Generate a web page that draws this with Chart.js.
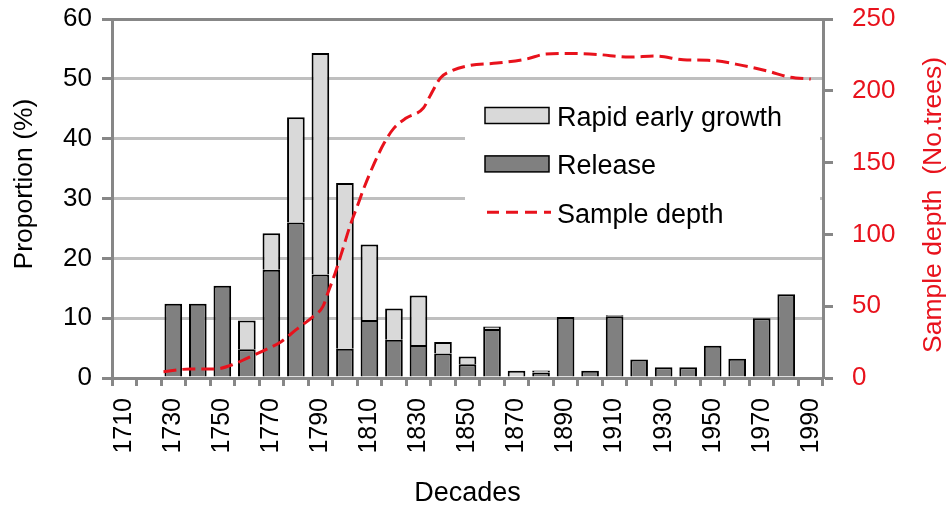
<!DOCTYPE html>
<html>
<head>
<meta charset="utf-8">
<script src="https://cdn.jsdelivr.net/npm/chart.js@4.4.1/dist/chart.umd.min.js"></script>
<style>
  body { margin: 0; background: #fff; }
  #wrap { width: 950px; height: 510px; }
</style>
</head>
<body>
<div id="wrap"><canvas id="myChart" width="950" height="510"></canvas></div>
<script>
// decades on the x axis (only every other one gets a label)
var decades = ['1710','1720','1730','1740','1750','1760','1770','1780','1790','1800',
               '1810','1820','1830','1840','1850','1860','1870','1880','1890','1900',
               '1910','1920','1930','1940','1950','1960','1970','1980','1990'];
var shownLabels = ['1710','1730','1750','1770','1790','1810','1830','1850','1870',
                   '1890','1910','1930','1950','1970','1990'];

// proportion (%) of trees per decade
var release = [null, null, 12.4, 12.4, 15.4, 4.8, 18.1, 26.0, 17.3, 4.9,
               9.7, 6.4, 5.5, 4.1, 2.3, 8.2, 0, 0.9, 10.2, 1.2,
               10.3, 3.1, 1.8, 1.8, 5.4, 3.2, 10.0, 14.0, null];
var rapidGrowth = [null, null, 0, 0, 0, 4.8, 6.1, 17.6, 37.0, 27.7,
                   12.6, 5.2, 8.3, 1.9, 1.3, 0.4, 1.2, 0.35, 0, 0,
                   0.2, 0, 0, 0, 0, 0, 0, 0, null];

// sample depth (no. of trees)
var depthYears = [1726, 1737, 1747, 1755, 1760, 1766, 1774, 1780, 1787, 1791,
                  1793, 1796, 1799, 1802, 1805, 1808, 1812, 1816, 1820, 1825,
                  1832, 1835, 1839, 1843, 1851, 1862, 1874, 1882, 1892, 1903,
                  1916, 1927, 1938, 1950, 1962, 1973, 1981, 1990];
var depthTrees = [4.4, 6.3, 6.3, 9.8, 13.7, 18.4, 25.3, 33.5, 42.8, 49.7,
                  59, 73, 89, 105.5, 119.4, 133.4, 149.6, 163.6, 174, 181,
                  188, 197.3, 209, 213.5, 217.7, 219.3, 222.1, 225.6, 226.0, 225.3,
                  223.5, 224.2, 221.6, 221.1, 217.7, 213.5, 209.6, 208.2];

var leftTitle = 'Proportion (%)';
var rightTitle = 'Sample depth  (No.trees)';

var red = '#e8121c';
var axisGrey = '#878787';
var gridGrey = '#bfbfbf';
var fontFamily = '"Liberation Sans", Arial, sans-serif';

Chart.defaults.font.family = fontFamily;
Chart.defaults.color = '#000';

var depthPoints = depthYears.map(function (yr, i) {
  return { x: yr, y: depthTrees[i] };
});

// legend rows: Rapid early growth, Release, Sample depth
var legendOrder = [1, 0, 2];

var boxLegend = {
  id: 'boxLegend',
  beforeDatasetsDraw: function (chart) {
    var c = chart.ctx;
    c.save();
    c.fillStyle = '#fff';
    c.fillRect(465, 90, 355, 158);
    c.font = '27px ' + fontFamily;
    c.textBaseline = 'alphabetic';
    legendOrder.forEach(function (di, row) {
      var ds = chart.data.datasets[di];
      var mid = 115.5 + row * 48.4;
      if (ds.type === 'line') {
        c.strokeStyle = ds.borderColor;
        c.lineWidth = 3;
        c.setLineDash([12, 7]);
        c.beginPath();
        c.moveTo(487, mid);
        c.lineTo(551, mid);
        c.stroke();
        c.setLineDash([]);
      } else {
        c.fillStyle = ds.backgroundColor;
        c.fillRect(485, mid - 8, 64, 16);
        c.strokeStyle = '#000';
        c.lineWidth = 1.5;
        c.strokeRect(485, mid - 8, 64, 16);
      }
      c.fillStyle = '#000';
      c.fillText(ds.label, 557, mid + 10.5);
    });
    c.restore();
  },
  afterDraw: function (chart) {
    var c = chart.ctx;
    c.save();
    c.font = '26.5px ' + fontFamily;
    c.textAlign = 'center';
    c.textBaseline = 'alphabetic';
    // left title
    c.fillStyle = '#000';
    c.translate(32, 184);
    c.rotate(-Math.PI / 2);
    c.fillText(leftTitle, 0, 0);
    c.restore();
    // right title, also reading bottom to top
    c.save();
    c.font = '26.5px ' + fontFamily;
    c.textAlign = 'center';
    c.textBaseline = 'alphabetic';
    c.fillStyle = red;
    c.translate(941, 205);
    c.rotate(-Math.PI / 2);
    c.fillText(rightTitle, 0, 0);
    c.restore();
  }
};

function fixWidth(w) {
  return function (s) {
    s.width = w;
    s.paddingTop = 0;
    s.paddingBottom = 0;
  };
}

var ctx = document.getElementById('myChart').getContext('2d');
var chart = new Chart(ctx, {
  type: 'bar',
  data: {
    labels: decades,
    datasets: [
      {
        label: 'Release',
        data: release,
        backgroundColor: '#808080',
        borderColor: '#000',
        borderWidth: 2,
        stack: 'trees',
        grouped: false,
        barPercentage: 0.72,
        categoryPercentage: 1,
        order: 1
      },
      {
        label: 'Rapid early growth',
        data: rapidGrowth,
        backgroundColor: '#d9d9d9',
        borderColor: '#000',
        borderWidth: 2,
        stack: 'trees',
        grouped: false,
        barPercentage: 0.72,
        categoryPercentage: 1,
        order: 1
      },
      {
        type: 'line',
        label: 'Sample depth',
        data: depthPoints,
        xAxisID: 'x2',
        yAxisID: 'y2',
        borderColor: red,
        borderWidth: 3,
        borderDash: [13, 6],
        pointRadius: 0,
        fill: false,
        cubicInterpolationMode: 'monotone',
        order: 0
      }
    ]
  },
  options: {
    responsive: false,
    animation: false,
    layout: { padding: { top: 19, left: 0, right: 0, bottom: 0 } },
    plugins: {
      legend: { display: false },
      tooltip: { enabled: false }
    },
    scales: {
      x: {
        stacked: true,
        grid: {
          drawOnChartArea: false,
          offset: true,
          tickColor: axisGrey,
          tickLength: 8,
          tickWidth: 3
        },
        border: { color: axisGrey, width: 3 },
        ticks: {
          autoSkip: false,
          maxRotation: 90,
          minRotation: 90,
          padding: 12,
          font: { size: 25 },
          color: '#000',
          callback: function (v, i) {
            return shownLabels.indexOf(decades[i]) >= 0 ? decades[i] : '';
          }
        },
        title: {
          display: true,
          text: 'Decades',
          font: { size: 27 },
          color: '#000',
          padding: { top: 0, bottom: 0 }
        },
        afterFit: function (s) {
          s.height = 132;
          s.paddingLeft = 0;
          s.paddingRight = 0;
        }
      },
      x2: {
        type: 'linear',
        display: false,
        offset: false,
        min: 1705,
        max: 1995
      },
      y: {
        stacked: true,
        min: 0,
        max: 60,
        ticks: {
          stepSize: 10,
          padding: 10,
          font: { size: 26 },
          color: '#000'
        },
        grid: {
          color: function (c) { return c.tick && c.tick.value === 60 ? axisGrey : gridGrey; },
          lineWidth: 3,
          tickColor: axisGrey,
          tickLength: 10,
          tickWidth: 3
        },
        border: { color: axisGrey, width: 3 },
        afterFit: fixWidth(112)
      },
      y2: {
        position: 'right',
        min: 0,
        max: 250,
        ticks: {
          stepSize: 50,
          padding: 19,
          font: { size: 26 },
          color: red
        },
        grid: {
          drawOnChartArea: false,
          tickColor: axisGrey,
          tickLength: 10,
          tickWidth: 3
        },
        border: { color: axisGrey, width: 3 },
        afterFit: fixWidth(127)
      }
    }
  },
  plugins: [boxLegend]
});
</script>
</body>
</html>
